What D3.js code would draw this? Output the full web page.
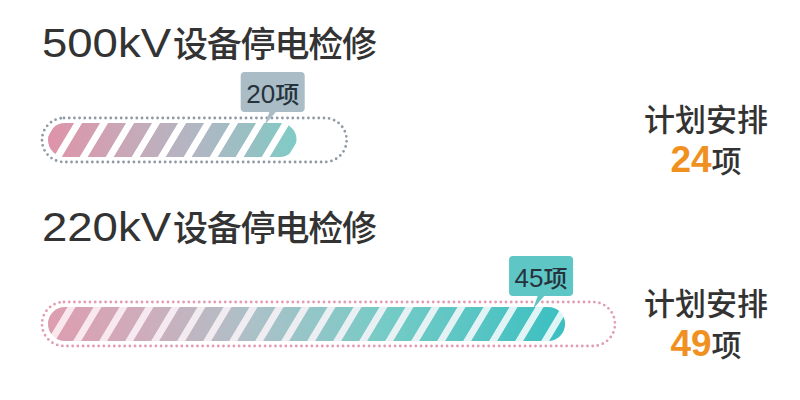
<!DOCTYPE html>
<html><head><meta charset="utf-8">
<script src="https://cdn.jsdelivr.net/npm/d3@7/dist/d3.min.js"></script>
<style>html,body{margin:0;padding:0;background:#fff;}svg{display:block;}</style>
</head><body>
<svg id="chart" width="800" height="400"></svg>
<script>
const categories = ["500kV设备停电检修", "220kV设备停电检修"];
const completed = [20, 45];
const planned = [24, 49];
const unitLabel = "项";
const planLabel = "计划安排";

const themes = [
  {outline:"#8f9aa5", tip:"#aabcc6", gap:["#ffffff","#ffffff"],
   stops:[[0,"#df93a8"],[0.35,"#c6aab9"],[0.6,"#b1b7c4"],[0.85,"#92c2c3"],[1,"#7fccc7"]]},
  {outline:"#e39cb1", tip:"#5ec6c4", gap:["#fbe7ee","#def5f6"],
   stops:[[0,"#dd9db0"],[0.2,"#cdaebc"],[0.4,"#abc1c8"],[0.65,"#76cbc6"],[1,"#3bbfc1"]]}
];

const svg = d3.select("#chart");
const defs = svg.append("defs");
const font = "'Noto Sans CJK SC','Noto Sans',sans-serif";
const latinFont = "'Liberation Sans',Arial,sans-serif";

const x = d3.scaleLinear().domain([0, d3.max(planned)]).range([85, 611]);
const y = d3.scaleBand().domain(categories).range([118, 486]).paddingInner(0).paddingOuter(0);
const left = 42, trackH = 44, inset = 5;

// stripe pattern
const pat = defs.append("pattern").attr("id","stripes").attr("patternUnits","userSpaceOnUse")
  .attr("width",26).attr("height",60).attr("patternTransform","skewX(-31)");
pat.append("rect").attr("x",0).attr("y",0).attr("width",18).attr("height",60).attr("fill","#fff");

categories.forEach((cat, i) => {
  const th = themes[i];
  const ty = y(cat);
  const g = svg.append("g");
  const fx0 = left + 6, fx1 = x(completed[i]) - 3;
  const fy = ty + inset, fh = trackH - 2*inset;

  // gradients
  const grad = defs.append("linearGradient").attr("id","grad"+i)
    .attr("gradientUnits","userSpaceOnUse").attr("x1",fx0).attr("x2",fx1).attr("y1",0).attr("y2",0);
  th.stops.forEach(s => grad.append("stop").attr("offset",s[0]).attr("stop-color",s[1]));
  const gg = defs.append("linearGradient").attr("id","gap"+i)
    .attr("gradientUnits","userSpaceOnUse").attr("x1",fx0).attr("x2",fx1).attr("y1",0).attr("y2",0);
  gg.append("stop").attr("offset",0).attr("stop-color",th.gap[0]);
  gg.append("stop").attr("offset",1).attr("stop-color",th.gap[1]);

  const clip = defs.append("clipPath").attr("id","clip"+i);
  clip.append("rect").attr("x",fx0).attr("y",fy).attr("width",fx1-fx0).attr("height",fh).attr("rx",fh/2);
  const mask = defs.append("mask").attr("id","mask"+i);
  mask.append("rect").attr("x",fx0-40).attr("y",fy).attr("width",fx1-fx0+80).attr("height",fh)
    .attr("fill","url(#stripes)");

  // title
  const latin = cat.match(/^[0-9A-Za-z]+/)[0];
  const rest = cat.slice(latin.length);
  g.append("text").attr("x",left).attr("y",ty-61).attr("font-family",latinFont).attr("font-size",40)
    .attr("fill","#333").attr("textLength",129).attr("lengthAdjust","spacingAndGlyphs").text(latin);
  g.append("text").attr("x",left+131).attr("y",ty-61).attr("font-family",font).attr("font-size",35)
    .attr("font-weight",500).attr("fill","#333").attr("textLength",204).attr("lengthAdjust","spacing").text(rest);

  // track outline
  g.append("rect").attr("x",left).attr("y",ty).attr("width",x(planned[i])+4-left).attr("height",trackH)
    .attr("rx",trackH/2).attr("fill","none").attr("stroke",th.outline).attr("stroke-width",2.8)
    .attr("stroke-dasharray","0 5.2").attr("stroke-linecap","round");

  // fill
  const fg = g.append("g").attr("clip-path",`url(#clip${i})`);
  fg.append("rect").attr("x",fx0).attr("y",fy).attr("width",fx1-fx0).attr("height",fh).attr("fill",`url(#gap${i})`);
  fg.append("rect").attr("x",fx0).attr("y",fy).attr("width",fx1-fx0).attr("height",fh)
    .attr("fill",`url(#grad${i})`).attr("mask",`url(#mask${i})`);

  // tooltip
  const bx = fx1 - 24, bw = 64, bh = 40, by = ty - 46;
  g.append("path").attr("d",`M${fx1-27},${by+bh-1} L${fx1-20},${by+bh-1} L${fx1-32},${ty+7} Z`).attr("fill",th.tip);
  g.append("rect").attr("x",bx-bw/2).attr("y",by).attr("width",bw).attr("height",bh).attr("rx",4).attr("fill",th.tip);
  const tt = g.append("text").attr("x",bx).attr("y",by+31).attr("text-anchor","middle").attr("fill","#26333d");
  tt.append("tspan").attr("font-family",latinFont).attr("font-size",26).text(completed[i]);
  tt.append("tspan").attr("font-family",font).attr("font-size",24).attr("font-weight",500).text(unitLabel);

  // right labels
  g.append("text").attr("x",706).attr("y",ty+13).attr("text-anchor","middle").attr("font-family",font)
    .attr("font-size",31).attr("font-weight",500).attr("fill","#333").text(planLabel);
  const t2 = g.append("text").attr("x",706).attr("y",ty+54).attr("text-anchor","middle");
  t2.append("tspan").attr("font-family",latinFont).attr("font-size",37).attr("font-weight","bold")
    .attr("fill","#f0911f").text(planned[i]);
  t2.append("tspan").attr("font-family",font).attr("font-size",30).attr("font-weight",500)
    .attr("fill","#333").text(unitLabel);
});
</script>
</body></html>
